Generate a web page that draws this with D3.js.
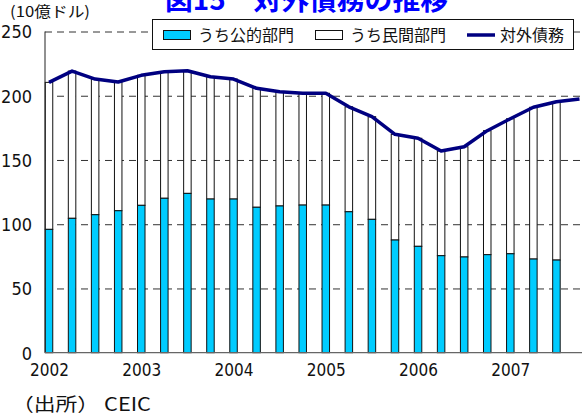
<!DOCTYPE html>
<html lang="ja">
<head>
  <meta charset="UTF-8" />
  <title>対外債務の推移</title>
  <script src="https://cdn.jsdelivr.net/npm/d3@7/dist/d3.min.js"></script>
  <style>
    body {
      margin: 0;
      background: #fff;
    }
    svg {
      display: block;
    }
    .jp {
      font-family: "Noto Sans CJK JP", sans-serif;
    }
    .num {
      font-family: "Liberation Sans Narrow", "DejaVu Sans Condensed", sans-serif;
    }
  </style>
</head>
<body>
  <div id="chart"></div>

  <script>
    // quarterly data, 2002Q1 - 2007Q4 (10億ドル)
    const quarters = [
      "2002Q1", "2002Q2", "2002Q3", "2002Q4",
      "2003Q1", "2003Q2", "2003Q3", "2003Q4",
      "2004Q1", "2004Q2", "2004Q3", "2004Q4",
      "2005Q1", "2005Q2", "2005Q3", "2005Q4",
      "2006Q1", "2006Q2", "2006Q3", "2006Q4",
      "2007Q1", "2007Q2", "2007Q3", "2007Q4"
    ];
    const yearLabels = ["2002", "2003", "2004", "2005", "2006", "2007"];
    const yTicks = [0, 50, 100, 150, 200, 250];

    // うち公的部門 (bars, no value for 2007Q4)
    const publicSector = [
      96.0, 104.6, 107.4, 110.5,
      114.7, 120.2, 124.0, 119.6,
      119.6, 113.2, 114.2, 114.9,
      114.9, 109.7, 103.8, 87.7,
      82.8, 75.5, 74.5, 76.3,
      77.0, 72.9, 72.1
    ];
    // うち民間部門 (stacked on top)
    const privateSector = [
      114.4, 114.6, 105.6, 100.2,
      101.2, 98.5, 95.5, 95.2,
      93.4, 92.6, 88.9, 87.0,
      87.0, 81.7, 79.9, 82.3,
      84.1, 81.5, 85.8, 96.5,
      105.1, 118.1, 123.2
    ];
    // 対外債務 (line)
    const totalDebt = [
      210.4, 219.2, 213.0, 210.7,
      215.9, 218.7, 219.5, 214.8,
      213.0, 205.8, 203.1, 201.9,
      201.9, 191.4, 183.7, 170.0,
      166.9, 157.0, 160.3, 172.8,
      182.1, 191.0, 195.3, 197.4
    ];

    const width = 582;
    const height = 416;
    const plotLeft = 45;
    const plotRight = 582;
    const yZero = 352.7;
    const yTop = 31.5;
    const barWidth = 7.5;

    const svg = d3.select("#chart")
      .append("svg")
      .attr("width", width)
      .attr("height", height);

    const x = d3.scalePoint()
      .domain(quarters)
      .range([49, 579.5]);

    const y = d3.scaleLinear()
      .domain([0, 250])
      .range([yZero, yTop]);

    // dashed gridlines
    const grid = svg.append("g")
      .attr("transform", `translate(${plotLeft},0)`)
      .call(d3.axisLeft(y).tickValues(yTicks.filter(d => d > 0))
        .tickSize(-(plotRight - plotLeft)).tickFormat(""));
    grid.select(".domain").remove();
    grid.selectAll("line")
      .attr("stroke", "#333")
      .attr("stroke-dasharray", "7,5");

    // stacked bars
    const barData = publicSector.map((v, i) => ({
      q: quarters[i], pub: v, priv: privateSector[i]
    }));

    const bars = svg.append("g");
    bars.selectAll(".priv")
      .data(barData)
      .enter().append("rect")
      .attr("class", "priv")
      .attr("x", d => x(d.q) - barWidth / 2)
      .attr("width", barWidth)
      .attr("y", d => y(d.pub + d.priv))
      .attr("height", d => y(d.pub) - y(d.pub + d.priv))
      .attr("fill", "#fff")
      .attr("stroke", "#111")
      .attr("stroke-width", 1);

    bars.selectAll(".pub")
      .data(barData)
      .enter().append("rect")
      .attr("class", "pub")
      .attr("x", d => x(d.q) - barWidth / 2)
      .attr("width", barWidth)
      .attr("y", d => y(d.pub))
      .attr("height", d => y(0) - y(d.pub))
      .attr("fill", "#00ccff")
      .attr("stroke", "#111")
      .attr("stroke-width", 1);

    // axes
    svg.append("line")
      .attr("x1", plotLeft).attr("x2", plotLeft)
      .attr("y1", y(250)).attr("y2", y(0))
      .attr("stroke", "#222");
    svg.append("line")
      .attr("x1", plotLeft).attr("x2", plotRight)
      .attr("y1", y(0)).attr("y2", y(0))
      .attr("stroke", "#666")
      .attr("stroke-width", 1.2);

    const yAxis = svg.append("g")
      .attr("transform", `translate(32,0)`)
      .call(d3.axisLeft(y).tickValues(yTicks).tickSize(0).tickPadding(0));
    yAxis.select(".domain").remove();
    yAxis.selectAll("text")
      .attr("class", "num")
      .attr("font-size", 18)
      .attr("fill", "#111")
      .attr("dy", "0.36em");

    const xAxis = svg.append("g")
      .attr("transform", `translate(0,${yZero})`)
      .call(d3.axisBottom(x)
        .tickValues(quarters.filter(q => q.endsWith("Q1")))
        .tickFormat(q => yearLabels[yearLabels.indexOf(q.slice(0, 4))])
        .tickSize(0).tickPadding(11));
    xAxis.select(".domain").remove();
    xAxis.selectAll("text")
      .attr("class", "num")
      .attr("font-size", 17)
      .attr("fill", "#111");

    // total debt line
    const line = d3.line()
      .x((d, i) => x(quarters[i]))
      .y(d => y(d));

    svg.append("path")
      .datum(totalDebt)
      .attr("fill", "none")
      .attr("stroke", "#000080")
      .attr("stroke-width", 3.5)
      .attr("stroke-linejoin", "round")
      .attr("d", line);

    // title (its top is cut off in the original too)
    svg.append("text")
      .attr("class", "jp")
      .attr("x", 165)
      .attr("y", 10)
      .attr("font-size", 27)
      .attr("font-weight", "bold")
      .attr("fill", "#0000ff")
      .attr("textLength", 283)
      .attr("lengthAdjust", "spacingAndGlyphs")
      .text("図15　対外債務の推移");

    svg.append("text")
      .attr("class", "jp")
      .attr("x", 10)
      .attr("y", 17)
      .attr("font-size", 15)
      .attr("fill", "#111")
      .attr("textLength", 80)
      .attr("lengthAdjust", "spacingAndGlyphs")
      .text("(10億ドル)");

    // legend
    const legend = svg.append("g");
    legend.append("rect")
      .attr("x", 152.5).attr("y", 19.5)
      .attr("width", 421).attr("height", 30)
      .attr("fill", "#fff")
      .attr("stroke", "#111");

    const legendItems = [
      { label: "うち公的部門", type: "bar", fill: "#00ccff", sx: 163, tx: 198 },
      { label: "うち民間部門", type: "bar", fill: "#fff", sx: 315, tx: 350 },
      { label: "対外債務", type: "line", fill: "#000080", sx: 467, tx: 500 }
    ];
    legendItems.forEach(item => {
      if (item.type === "bar") {
        legend.append("rect")
          .attr("x", item.sx + 0.5).attr("y", 30.5)
          .attr("width", 27).attr("height", 9)
          .attr("fill", item.fill)
          .attr("stroke", "#111");
      } else {
        legend.append("line")
          .attr("x1", item.sx).attr("x2", item.sx + 28)
          .attr("y1", 35).attr("y2", 35)
          .attr("stroke", item.fill)
          .attr("stroke-width", 3.5);
      }
      legend.append("text")
        .attr("class", "jp")
        .attr("x", item.tx)
        .attr("y", 41)
        .attr("font-size", 16)
        .attr("fill", "#111")
        .text(item.label);
    });

    // source note
    svg.append("text")
      .attr("class", "jp")
      .attr("x", 12)
      .attr("y", 411)
      .attr("font-size", 18)
      .attr("fill", "#111")
      .attr("textLength", 139)
      .attr("lengthAdjust", "spacingAndGlyphs")
      .text("（出所） CEIC");
  </script>
</body>
</html>
